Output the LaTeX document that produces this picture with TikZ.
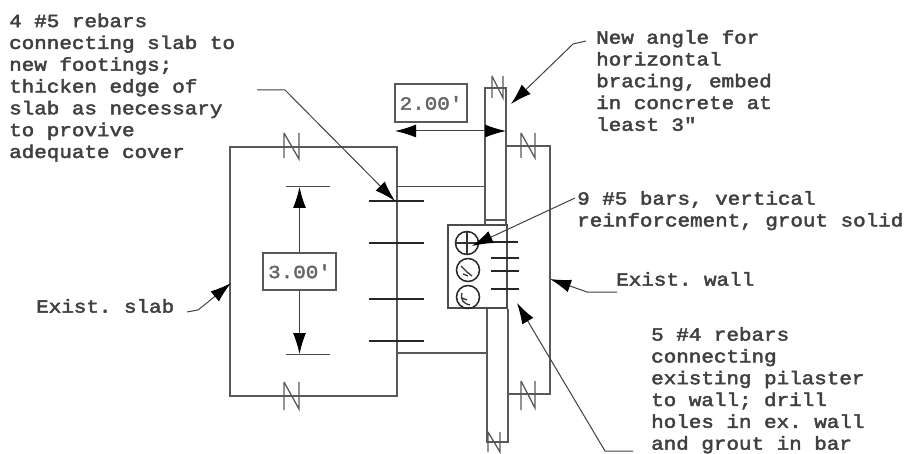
\documentclass[tikz,border=0pt]{standalone}
\usepackage{fontspec}
\setmonofont{Liberation Mono}[FakeBold=2.5,FakeStretch=1.13]
\usetikzlibrary{arrows.meta}
\tikzset{
 ln/.style={draw=black!65,line width=1.3pt},
 thin ln/.style={draw=black!70,line width=1pt},
 bar/.style={draw=black!85,line width=1.6pt},
 smallbar/.style={draw=black!85,line width=1.1pt},
 lead/.style={draw=black!75,line width=1pt,-{Latex[length=21pt,width=13pt,color=black]}},
 dim/.style={draw=black!75,line width=1pt,{Latex[length=21pt,width=13pt,color=black]}-{Latex[length=21pt,width=13pt,color=black]}},
 note/.style={font=\ttfamily\fontsize{18.5}{21.8}\selectfont,align=left,anchor=north west,inner sep=0pt,text=black!75},
 dimbox/.style={draw=black!65,line width=1.3pt,fill=white,font=\ttfamily\fontsize{18.5}{20}\selectfont,text=black!60,inner sep=0pt},
 brk/.style={draw=black!65,line width=1.3pt,fill=none},
 hole/.style={draw=black!85,line width=1.5pt,circle,minimum size=23pt,inner sep=0pt},
 scrib/.style={draw=black!80,line width=1.3pt}
}
\begin{document}
\begin{tikzpicture}[x=1pt,y=-1pt]
\useasboundingbox (0,0) rectangle (907,454);
% slab
\coordinate (s1) at (230,147);\coordinate (s2) at (397,147);\coordinate (s3) at (397,396);\coordinate (s4) at (230,396);
\draw[ln] (s1)--(s2)--(s3)--(s4)--cycle;
% wall
\draw[ln] (506,146)--(550,146)--(550,394)--(508,394);
% upper strip
\draw[ln] (485,225)--(485,88)--(506,88)--(506,225);
\draw[ln] (485,220)--(506,220);
% lower strip
\draw[ln] (487,309)--(487,442)--(508,442)--(508,309);
% slab ties
\draw[thin ln] (397,187)--(485,187);
\draw[ln] (397,353)--(487,353);
% pilaster
\node[draw=black!70,line width=1.3pt,minimum width=59pt,minimum height=83pt,inner sep=0pt] (pil) at (477.5,266.5) {};
\node[hole] (h1) at (467,243) {};
\node[hole] (h2) at (468,270) {};
\node[hole] (h3) at (468,297) {};
\draw[scrib] (h1.west)--(h1.east) (h1.north)--(h1.south);
\draw[scrib] (461,266)--(467,272)--(472,276) (463,274)--(468,276);
\draw[scrib] (462,293)..controls (460,300) and (464,304)..(470,305) (462,298)--(467,300);
\draw[smallbar] (493,242)--(518,242);
\draw[smallbar] (491,258)--(519,258);
\draw[smallbar] (491,271)--(519,271);
\draw[smallbar] (491,289)--(519,289);
% rebars
\draw[bar] (369,201)--(424,201);
\draw[bar] (369,243)--(424,243);
\draw[bar] (369,299)--(424,299);
\draw[bar] (369,341)--(424,341);
% break marks
\draw[brk] (284,133)--(284,158) (284,133)--(299,159)--(299,133);
\draw[brk] (284,382)--(284,410) (284,382)--(299,409)--(299,382);
\draw[brk] (521,133)--(521,158) (521,133)--(535,158)--(535,133);
\draw[brk] (521,381)--(521,410) (521,381)--(535,408)--(535,381);
\draw[brk] (492,76)--(492,98) (492,76)--(503,98)--(503,76);
\draw[brk] (488,432)--(488,452) (488,432)--(500,452)--(500,432);
% dimension 3.00
\draw[thin ln] (286,187)--(330,187);
\draw[thin ln] (286,354)--(330,354);
\node[dimbox,minimum width=73pt,minimum height=37pt] (d3) at (299.5,271.5) {3.00'};
\coordinate (d3t) at (299.5,187);\coordinate (d3b) at (299.5,354);
\draw[lead] (d3.north)--(d3t);
\draw[lead] (d3.south)--(d3b);
% dimension 2.00
\node[dimbox,minimum width=72pt,minimum height=38pt] (d2) at (431,103) {2.00'};
\coordinate (d2l) at (395,131);\coordinate (d2r) at (506,131);
\draw[dim] (d2l)--(d2r);
% texts
\node[note] (n1) at (9,13.5) {4 \#5 rebars\\connecting slab to\\new footings;\\thicken edge of\\slab as necessary\\to provive\\adequate cover};
\node[note] (n2) at (596,30) {New angle for\\horizontal\\bracing, embed\\in concrete at\\least 3"};
\node[note] (n3) at (577,191) {9 \#5 bars, vertical\\reinforcement, grout solid};
\node[note] (n4) at (616,272) {Exist. wall};
\node[note] (n5) at (36,299) {Exist. slab};
\node[note] (n6) at (651,327) {5 \#4 rebars\\connecting\\existing pilaster\\to wall; drill\\holes in ex. wall\\and grout in bar};
% leaders
\coordinate (a1) at (395,201);
\draw[lead] (257,90)--(285,90)--(a1);
\coordinate (a2) at (511,104);
\draw[lead] (586,41)--(573,44)--(a2);
\coordinate (a3) at (472,246);
\draw[lead] (575,198)--(a3);
\coordinate (a4) at (550,279);
\draw[lead] (617,292)--(587,292)--(a4);
\coordinate (a5) at (231,283);
\draw[lead] (187,312)--(198,310)--(208,302)--(a5);
\coordinate (a6) at (517,303);
\draw[lead] (633,451)--(605,451)--(a6);
\end{tikzpicture}
\end{document}
